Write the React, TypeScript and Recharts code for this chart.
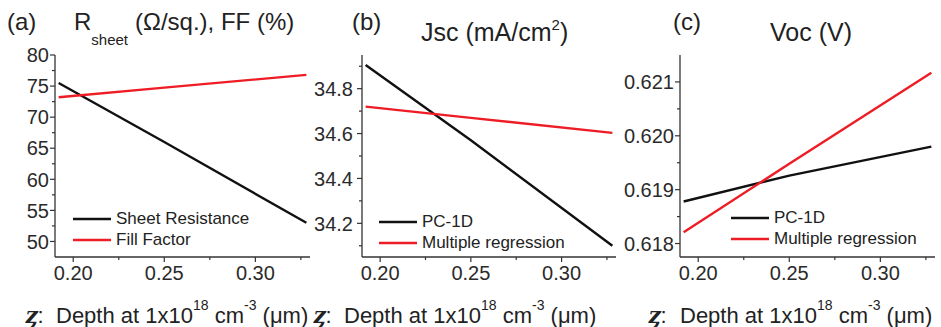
import { Legend, Line, LineChart, XAxis, YAxis } from "recharts";

// values
const depth = [0.192, 0.25, 0.328];
const sheetResistance = [75.5, 66.0, 53.0];
const fillFactor = [73.2, 74.75, 76.8];
const jscPC1D = [34.905, 34.57, 34.1];
const jscRegression = [34.72, 34.67, 34.603];
const vocPC1D = [0.61878, 0.61926, 0.6198];
const vocRegression = [0.61821, 0.61948, 0.62117];

const depthTicks = [0.2, 0.225, 0.25, 0.275, 0.3, 0.325];
const depthMajor = [0.2, 0.25, 0.3];
const rsTicks = [50, 52.5, 55, 57.5, 60, 62.5, 65, 67.5, 70, 72.5, 75, 77.5, 80];
const rsMajor = [50, 55, 60, 65, 70, 75, 80];
const jscTicks = [34.1, 34.2, 34.3, 34.4, 34.5, 34.6, 34.7, 34.8, 34.9];
const jscMajor = [34.2, 34.4, 34.6, 34.8];
const vocTicks = [0.618, 0.6185, 0.619, 0.6195, 0.62, 0.6205, 0.621];
const vocMajor = [0.618, 0.619, 0.62, 0.621];

const FONT = "'Liberation Sans', Arial, sans-serif";
const H = 327;
const frame = { stroke: "#333", strokeWidth: 1.3 };

const isMajor = (list: number[], v: number) => list.some((m) => Math.abs(m - v) < 1e-9);

// ticks point outward from the frame, minor ones shorter
const makeTick =
  (side: "left" | "right" | "top" | "bottom", majors: number[], digits = 0, gap = 5) =>
  (props: any) => {
    const { x, y, payload } = props;
    const major = isMajor(majors, payload.value);
    const len = major ? 5 : 3;
    let line;
    if (side === "left") line = { x1: x - len, x2: x, y1: y, y2: y };
    else if (side === "right") line = { x1: x, x2: x + len, y1: y, y2: y };
    else if (side === "top") line = { x1: x, x2: x, y1: y - len, y2: y };
    else line = { x1: x, x2: x, y1: y, y2: y + len };
    return (
      <g>
        <line {...line} stroke="#333" strokeWidth={1.2} />
        {major && side === "left" && (
          <text x={x - gap} y={y} dy="0.36em" textAnchor="end" fontFamily={FONT} fontSize={20} fill="#2a2a2a">
            {payload.value.toFixed(digits)}
          </text>
        )}
        {major && side === "bottom" && (
          <text x={x} y={y + 23} textAnchor="middle" fontFamily={FONT} fontSize={20} fill="#2a2a2a">
            {payload.value.toFixed(digits)}
          </text>
        )}
      </g>
    );
  };

const DepthLabel = (props: any) => {
  const { viewBox, zOffset, textOffset } = props;
  const { x, y } = viewBox;
  return (
    <text y={y + 66} fontFamily={FONT} fontSize={22} fill="#222">
      <tspan x={x + zOffset} fontFamily="'DejaVu Serif', serif" fontStyle="italic" fontWeight="bold" fontSize={22}>
        ȥ
      </tspan>
      <tspan>:</tspan>
      <tspan x={x + textOffset}>Depth at 1x10</tspan>
      <tspan fontSize={14} dy={-13}>18</tspan>
      <tspan dy={13}>{" cm"}</tspan>
      <tspan fontSize={14} dy={-13}>-3</tspan>
      <tspan dy={13}>{" (μm)"}</tspan>
    </text>
  );
};

const LegendContent = ({ payload, order }: any) => {
  const items = [...(payload || [])].sort(
    (a: any, b: any) => order.indexOf(a.value) - order.indexOf(b.value)
  );
  return (
    <div style={{ fontFamily: FONT, fontSize: 17, color: "#222" }}>
      {items.map((p: any) => (
        <div key={p.value} style={{ display: "flex", alignItems: "center", height: 21 }}>
          <svg width={38} height={4} style={{ display: "block" }}>
            <line x1={0} x2={38} y1={2} y2={2} stroke={p.color} strokeWidth={2.4} />
          </svg>
          <span style={{ marginLeft: 5, whiteSpace: "nowrap" }}>{p.value}</span>
        </div>
      ))}
    </div>
  );
};

type Series = { key: string; name: string; color: string };

type PanelProps = {
  left: number;
  width: number;
  yWidth: number;
  rightMargin: number;
  data: any[];
  series: Series[];
  yDomain: [number, number];
  yTicks: number[];
  yMajor: number[];
  yDigits: number;
  labelGap: number;
  legendLeft: number;
  legendTop: number;
  zOffset: number;
  textOffset: number;
};

const Panel = (p: PanelProps) => (
  <div style={{ position: "absolute", left: p.left, top: 0 }}>
    <LineChart width={p.width} height={H} data={p.data} margin={{ top: 55, right: p.rightMargin, bottom: 0, left: 0 }}>
      <XAxis
        xAxisId="b"
        dataKey="depth"
        type="number"
        domain={[0.19, 0.33]}
        allowDataOverflow
        ticks={depthTicks}
        interval={0}
        height={70}
        tickSize={0}
        tickMargin={0}
        tickLine={false}
        axisLine={frame}
        tick={makeTick("bottom", depthMajor, 2)}
        label={<DepthLabel zOffset={p.zOffset} textOffset={p.textOffset} />}
      />
      <XAxis
        xAxisId="t"
        orientation="top"
        dataKey="depth"
        type="number"
        domain={[0.19, 0.33]}
        allowDataOverflow
        ticks={depthTicks}
        interval={0}
        height={0}
        tickSize={0}
        tickMargin={0}
        tickLine={false}
        axisLine={frame}
        tick={makeTick("top", depthMajor)}
      />
      <YAxis
        yAxisId="l"
        type="number"
        domain={p.yDomain}
        allowDataOverflow
        ticks={p.yTicks}
        interval={0}
        width={p.yWidth}
        tickSize={0}
        tickMargin={0}
        tickLine={false}
        axisLine={frame}
        tick={makeTick("left", p.yMajor, p.yDigits, p.labelGap)}
      />
      <YAxis
        yAxisId="r"
        orientation="right"
        type="number"
        domain={p.yDomain}
        allowDataOverflow
        ticks={p.yTicks}
        interval={0}
        width={0}
        tickSize={0}
        tickMargin={0}
        tickLine={false}
        axisLine={frame}
        tick={makeTick("right", p.yMajor)}
      />
      {p.series.map((s) => (
        <Line
          key={s.key}
          xAxisId="b"
          yAxisId="l"
          type="linear"
          dataKey={s.key}
          name={s.name}
          stroke={s.color}
          strokeWidth={2.4}
          dot={false}
          isAnimationActive={false}
        />
      ))}
      <Legend
        layout="vertical"
        align="center"
        verticalAlign="middle"
        content={<LegendContent order={p.series.map((s) => s.name)} />}
        wrapperStyle={{ left: p.legendLeft, top: p.legendTop, width: "auto", height: "auto" }}
      />
    </LineChart>
  </div>
);

const rsData = depth.map((d, i) => ({ depth: d, rs: sheetResistance[i], ff: fillFactor[i] }));
const jscData = depth.map((d, i) => ({ depth: d, pc: jscPC1D[i], mr: jscRegression[i] }));
const vocData = depth.map((d, i) => ({ depth: d, pc: vocPC1D[i], mr: vocRegression[i] }));

const BLACK = "#111111";
const RED = "#ee1c24";

export default function App() {
  return (
    <div style={{ position: "absolute", left: 0, top: 0, width: 941, height: H, background: "#fff" }}>
      <Panel
        left={0}
        width={320}
        yWidth={55}
        rightMargin={10}
        data={rsData}
        series={[
          { key: "rs", name: "Sheet Resistance", color: BLACK },
          { key: "ff", name: "Fill Factor", color: RED },
        ]}
        yDomain={[47.5, 80]}
        yTicks={rsTicks}
        yMajor={rsMajor}
        yDigits={0}
        labelGap={6}
        legendLeft={73}
        legendTop={208.5}
        zOffset={-30}
        textOffset={1}
      />
      <Panel
        left={310}
        width={316}
        yWidth={52}
        rightMargin={10}
        data={jscData}
        series={[
          { key: "pc", name: "PC-1D", color: BLACK },
          { key: "mr", name: "Multiple regression", color: RED },
        ]}
        yDomain={[34.05, 34.95]}
        yTicks={jscTicks}
        yMajor={jscMajor}
        yDigits={1}
        labelGap={9}
        legendLeft={69}
        legendTop={211}
        zOffset={-49}
        textOffset={-18}
      />
      <Panel
        left={620}
        width={321}
        yWidth={60}
        rightMargin={6}
        data={vocData}
        series={[
          { key: "pc", name: "PC-1D", color: BLACK },
          { key: "mr", name: "Multiple regression", color: RED },
        ]}
        yDomain={[0.61775, 0.6215]}
        yTicks={vocTicks}
        yMajor={vocMajor}
        yDigits={3}
        labelGap={6}
        legendLeft={111}
        legendTop={207}
        zOffset={-32}
        textOffset={0}
      />
      <svg width={941} height={H} style={{ position: "absolute", left: 0, top: 0, pointerEvents: "none" }}>
        <g fontFamily={FONT} fill="#222">
          <text x={7} y={30} fontSize={24}>(a)</text>
          <text y={30} fontSize={24}>
            <tspan x={74}>R</tspan>
            <tspan fontSize={15} y={45}>sheet</tspan>
            <tspan x={135} y={30}>(Ω/sq.), FF (%)</tspan>
          </text>
          <text x={352} y={30} fontSize={24}>(b)</text>
          <text y={41} fontSize={25}>
            <tspan x={421}>Jsc (mA/cm</tspan>
            <tspan fontSize={15} y={30}>2</tspan>
            <tspan y={41}>)</tspan>
          </text>
          <text x={673} y={30} fontSize={24}>(c)</text>
          <text x={770} y={41} fontSize={25}>Voc (V)</text>
        </g>
      </svg>
    </div>
  );
}
